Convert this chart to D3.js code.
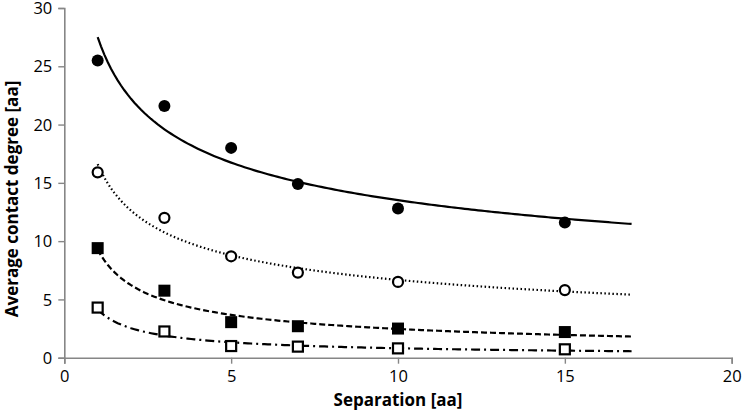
<!DOCTYPE html>
<html><head><meta charset="utf-8">
<script src="https://cdn.jsdelivr.net/npm/d3@7"></script>
<style>body{margin:0;background:#fff}</style>
</head><body>
<svg id="c" width="742" height="414"></svg>
<script>
const separation = [1, 3, 5, 7, 10, 15];
const filledCircles = [25.5, 21.6, 18.0, 14.9, 12.8, 11.6];
const openCircles = [15.9, 12.0, 8.7, 7.3, 6.5, 5.8];
const filledSquares = [9.4, 5.75, 3.05, 2.7, 2.5, 2.2];
const openSquares = [4.3, 2.25, 1.0, 0.95, 0.8, 0.72];
const xTicks = [0, 5, 10, 15, 20];
const yTicks = [0, 5, 10, 15, 20, 25, 30];
const trendRange = [1, 17];

const svg = d3.select("#c");
const x = d3.scaleLinear().domain([0, 20]).range([64.3, 731.7]);
const y = d3.scaleLinear().domain([0, 30]).range([357.7, 8]);
const font = "'Open Sans', sans-serif";
const axisColor = "#868686";

const xa = svg.append("g").attr("transform", `translate(0,${y(0)})`)
  .call(d3.axisBottom(x).tickValues(xTicks).tickSize(6).tickPadding(7));
const ya = svg.append("g").attr("transform", `translate(${x(0)},0)`)
  .call(d3.axisLeft(y).tickValues(yTicks).tickSize(6).tickPadding(6));
[xa, ya].forEach(a => {
  a.select(".domain").attr("stroke", axisColor).attr("stroke-width", 1.6);
  a.selectAll(".tick line").attr("stroke", axisColor).attr("stroke-width", 1.4);
  a.selectAll("text").attr("font-family", font).attr("font-size", 16.5).attr("fill", "#000");
});
ya.selectAll(".tick text").attr("dy", "0.34em");

svg.append("text").attr("x", x(10)).attr("y", 406).attr("text-anchor", "middle")
  .attr("font-family", font).attr("font-weight", "bold").attr("font-size", 17).text("Separation [aa]");
svg.append("text").attr("transform", `translate(18,199) rotate(-90)`).attr("text-anchor", "middle")
  .attr("font-family", font).attr("font-weight", "bold").attr("font-size", 17).text("Average contact degree [aa]");

// power-law trend lines fitted to the data (log-log least squares)
function powerFit(xs, ys) {
  const lx = xs.map(Math.log), ly = ys.map(Math.log);
  const mx = d3.mean(lx), my = d3.mean(ly);
  const b = d3.sum(lx, (v, i) => (v - mx) * (ly[i] - my)) / d3.sum(lx, v => (v - mx) ** 2);
  const a = Math.exp(my - b * mx);
  return t => a * Math.pow(t, b);
}
const series = [
  {vals: filledCircles, shape: "circle", fill: true, dash: null},
  {vals: openCircles, shape: "circle", fill: false, dash: "1.5,2.5"},
  {vals: filledSquares, shape: "square", fill: true, dash: "6,3"},
  {vals: openSquares, shape: "square", fill: false, dash: "9,4,2,4"}
];
const line = d3.line().x(d => x(d[0])).y(d => y(d[1]));
series.forEach(s => {
  const f = powerFit(separation, s.vals);
  const ts = d3.range(0, 161).map(i => trendRange[0] + (trendRange[1] - trendRange[0]) * i / 160);
  svg.append("path").datum(ts.map(t => [t, f(t)])).attr("d", line)
    .attr("fill", "none").attr("stroke", "#000").attr("stroke-width", 2.2)
    .attr("stroke-dasharray", s.dash);
});
series.forEach(s => {
  const g = svg.append("g");
  separation.forEach((sx, i) => {
    const cx = x(sx), cy = y(s.vals[i]);
    if (s.shape === "circle") {
      g.append("circle").attr("cx", cx).attr("cy", cy).attr("r", s.fill ? 6 : 5)
        .attr("fill", s.fill ? "#000" : "#fff").attr("stroke", "#000").attr("stroke-width", s.fill ? 0 : 2.2);
    } else {
      const h = s.fill ? 6 : 5;
      g.append("rect").attr("x", cx - h).attr("y", cy - h).attr("width", 2 * h).attr("height", 2 * h)
        .attr("fill", s.fill ? "#000" : "#fff").attr("stroke", "#000").attr("stroke-width", s.fill ? 0 : 2.2);
    }
  });
});
</script>
</body></html>
